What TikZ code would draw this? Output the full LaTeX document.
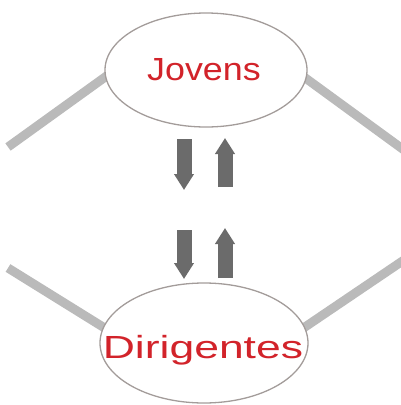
\documentclass[tikz,border=0pt]{standalone}
\usepackage{fontspec}
\setmainfont{Liberation Sans}
\usetikzlibrary{shapes.geometric,arrows.meta,backgrounds}
\definecolor{ringgray}{HTML}{A39C9A}
\definecolor{bargray}{HTML}{BABABA}
\definecolor{arrowgray}{HTML}{6B6B6B}
\definecolor{inkred}{HTML}{D2232A}
\begin{document}
\begin{tikzpicture}[x=1pt,y=-1pt,
  ring/.style={ellipse,draw=ringgray,line width=1.3pt,fill=white,inner sep=0pt},
  bar/.style={draw=bargray,line width=9pt,shorten <=-10pt},
  bigarrow/.style={draw=arrowgray,line width=15pt,-{Triangle[width=19pt,length=16pt]}},
  word/.style={text=inkred,font=\fontsize{32}{32}\selectfont,anchor=base,inner sep=0pt}]
\useasboundingbox (0,0) rectangle (400,405);
\node[ring,minimum width=202pt,minimum height=114pt] (J) at (206,70) {};
\node[ring,minimum width=208pt,minimum height=120pt] (D) at (204,343) {};
\coordinate (tl) at (8,147);
\coordinate (tr) at (404,150);
\coordinate (bl) at (8,268);
\coordinate (br) at (404,260);
\begin{scope}[on background layer]
  \draw[bar] (J.184) -- (tl);
  \draw[bar] (J.355.5) -- (tr);
  \draw[bar] (D.171.5) -- (bl);
  \draw[bar] (D.9) -- (br);
\end{scope}
\node[word] (Jt) at (204,80) {\scalebox{1.12}[1]{Jovens}};
\node[word] (Dt) at (203,358) {\scalebox{1.39}[1]{Dirigentes}};
\coordinate (a1s) at (184,139);
\coordinate (a1e) at (184,190);
\coordinate (a2s) at (225,187);
\coordinate (a2e) at (225,138);
\coordinate (a3s) at (184,230);
\coordinate (a3e) at (184,279);
\coordinate (a4s) at (225,278);
\coordinate (a4e) at (225,228);
\draw[bigarrow] (a1s) -- (a1e);
\draw[bigarrow] (a2s) -- (a2e);
\draw[bigarrow] (a3s) -- (a3e);
\draw[bigarrow] (a4s) -- (a4e);
\end{tikzpicture}
\end{document}
